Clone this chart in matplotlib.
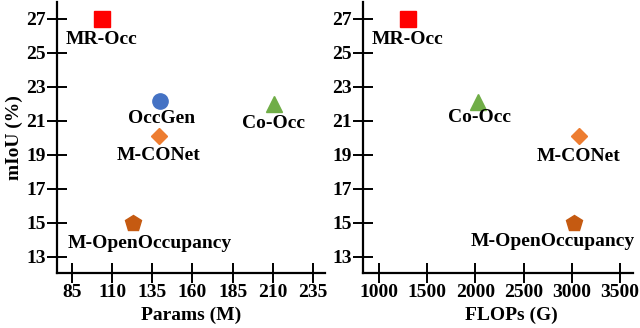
import matplotlib
matplotlib.use("Agg")
import matplotlib.pyplot as plt

plt.rcParams['font.family'] = ['Liberation Serif', 'DejaVu Serif']
plt.rcParams['font.weight'] = 'bold'
plt.rcParams['font.size'] = 14

# data
methods = ["MR-Occ", "OccGen", "M-CONet", "Co-Occ", "M-OpenOccupancy"]
miou = [27.0, 22.2, 20.1, 22.0, 15.0]
params = [104, 140, 139, 211, 123]
methods_flops = ["MR-Occ", "Co-Occ", "M-CONet", "M-OpenOccupancy"]
miou_flops = [27.0, 22.1, 20.1, 15.0]
flops = [1300, 2030, 3075, 3025]

style = {
  "MR-Occ": ("s", "#ff0000", 11),
  "OccGen": ("o", "#4472c4", 11),
  "M-CONet": ("D", "#ed7d31", 8),
  "Co-Occ": ("^", "#70ad47", 12),
  "M-OpenOccupancy": ("p", "#c55a11", 12),
}

# label offsets in pixels (dx, dy) relative to the marker
offs_left = {"MR-Occ": (-1, -21), "OccGen": (1, -18), "M-CONet": (0, -19),
             "Co-Occ": (-1, -20), "M-OpenOccupancy": (17, -21)}
offs_right = {"MR-Occ": (0, -21), "Co-Occ": (1, -15), "M-CONet": (0, -20),
              "M-OpenOccupancy": (-21, -19)}

fig = plt.figure(figsize=(6.4, 3.28), dpi=100)
ax1 = fig.add_axes([57/640, 1 - 273/328, 268/640, 271/328])
ax2 = fig.add_axes([363/640, 1 - 273/328, 270/640, 271/328])

def setup(ax, xlim, xticks, xlabel, xlabel_x):
  for s in ["top", "right"]:
    ax.spines[s].set_visible(False)
  for s in ["left", "bottom"]:
    ax.spines[s].set_linewidth(1.6)
  ax.set_xlim(*xlim)
  ax.set_ylim(12.05, 28.0)
  ax.set_xticks(xticks)
  ax.set_yticks([13, 15, 17, 19, 21, 23, 25, 27])
  ax.tick_params(direction="inout", length=14, width=1.4, labelsize=14, pad=1)
  ax.set_xlabel(xlabel, fontweight="bold", fontsize=14, labelpad=0)
  ax.xaxis.set_label_coords(xlabel_x, -0.125)

for name, x, y in zip(methods, params, miou):
  m, c, ms = style[name]
  ax1.plot(x, y, marker=m, color=c, markersize=ms, linestyle="none", clip_on=False)
  ax1.annotate(name, (x, y), xytext=offs_left[name], textcoords="offset pixels",
               ha="center", va="center", fontweight="bold", fontsize=14)

for name, x, y in zip(methods_flops, flops, miou_flops):
  m, c, ms = style[name]
  ax2.plot(x, y, marker=m, color=c, markersize=ms, linestyle="none", clip_on=False)
  ax2.annotate(name, (x, y), xytext=offs_right[name], textcoords="offset pixels",
               ha="center", va="center", fontweight="bold", fontsize=14)

setup(ax1, (75.7, 242.5), [85, 110, 135, 160, 185, 210, 235], "Params (M)", 0.5)
setup(ax2, (835, 3635), [1000, 1500, 2000, 2500, 3000, 3500], "FLOPs (G)", 0.55)
ax1.set_ylabel("mIoU (%)", fontweight="bold", fontsize=14, labelpad=2)

fig.savefig("out.png", dpi=100)
